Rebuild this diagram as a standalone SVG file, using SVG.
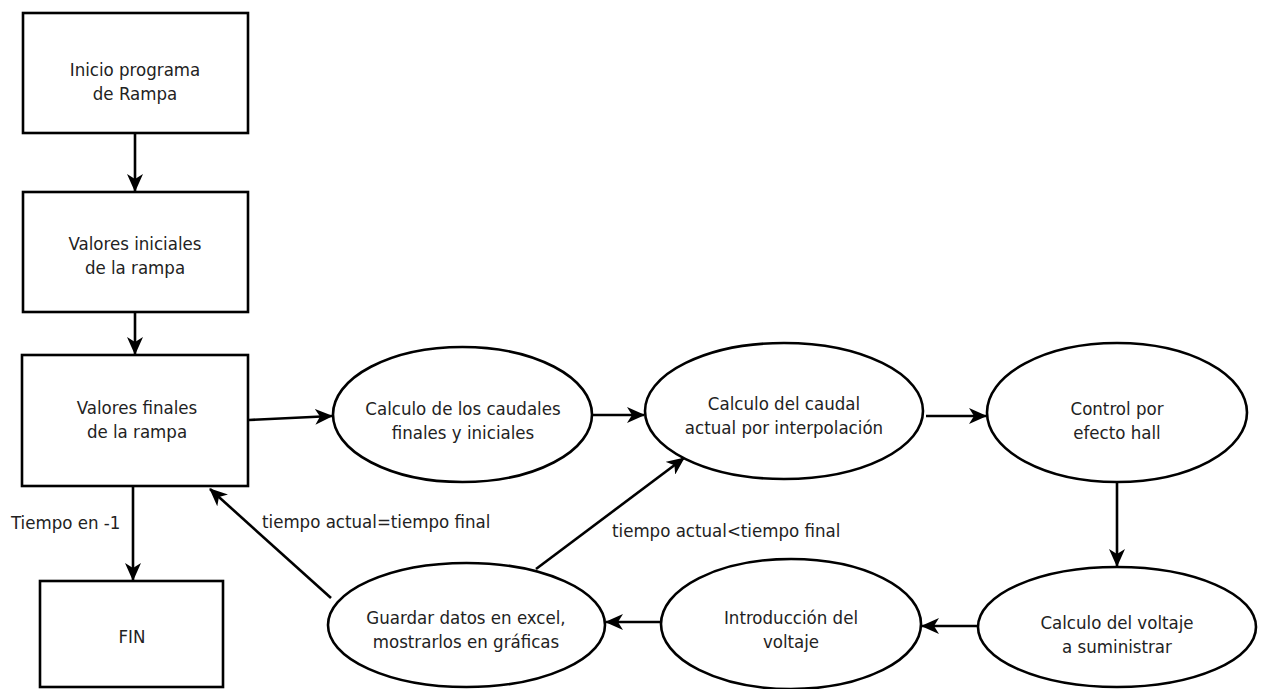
<svg xmlns="http://www.w3.org/2000/svg" width="1262" height="689" viewBox="0 0 1262 689">
<style>
.node{fill:#fff;stroke:#000;stroke-width:2.6}
.t{font-family:"DejaVu Sans Condensed","DejaVu Sans",Verdana,sans-serif;font-stretch:condensed;font-size:18.5px;fill:#222;text-anchor:middle;dominant-baseline:central}
.lbl{font-family:"DejaVu Sans Condensed","DejaVu Sans",Verdana,sans-serif;font-stretch:condensed;font-size:18.5px;fill:#222;dominant-baseline:central}
.c{fill:none;stroke:#000;stroke-width:2.6;marker-end:url(#ah)}
</style>
<defs>
<marker id="ah" viewBox="0 0 18 16" refX="17" refY="8" markerWidth="18" markerHeight="16" markerUnits="userSpaceOnUse" orient="auto">
<path d="M0,0 L18,8 L0,16 L5,8 Z" fill="#000"/>
</marker>
</defs>
<rect width="1262" height="689" fill="#fff"/>
<g id="connectors">
<line class="c" x1="135" y1="133" x2="135" y2="191"/>
<line class="c" x1="135" y1="312" x2="135" y2="354"/>
<line class="c" x1="249" y1="420" x2="332" y2="416"/>
<line class="c" x1="592" y1="415" x2="644" y2="415"/>
<line class="c" x1="926" y1="416" x2="986" y2="416"/>
<line class="c" x1="1117" y1="482" x2="1117" y2="566"/>
<line class="c" x1="978" y1="626" x2="922" y2="626"/>
<line class="c" x1="661" y1="622" x2="606" y2="622"/>
<line class="c" x1="536" y1="569" x2="684" y2="458"/>
<line class="c" x1="331" y1="598" x2="210" y2="489"/>
<line class="c" x1="133" y1="487" x2="133" y2="580"/>
<text class="lbl" x="11" y="522">Tiempo en -1</text>
<text class="lbl" x="262" y="521">tiempo actual=tiempo final</text>
<text class="lbl" x="612" y="530">tiempo actual&lt;tiempo final</text>
</g>
<g id="n1"><rect class="node" x="23" y="13" width="225" height="120"/><text class="t" x="135" y="69">Inicio programa</text><text class="t" x="135" y="93">de Rampa</text></g>
<g id="n2"><rect class="node" x="23" y="192" width="225" height="120"/><text class="t" x="135" y="243">Valores iniciales</text><text class="t" x="135" y="267">de la rampa</text></g>
<g id="n3"><rect class="node" x="22" y="355" width="226" height="131"/><text class="t" x="137" y="407">Valores finales</text><text class="t" x="137" y="431">de la rampa</text></g>
<g id="n4"><rect class="node" x="40" y="581" width="183" height="106"/><text class="t" x="132" y="636">FIN</text></g>
<g id="e1"><ellipse class="node" cx="462.5" cy="414.5" rx="129.5" ry="67.5"/><text class="t" x="463" y="408">Calculo de los caudales</text><text class="t" x="463" y="432">finales y iniciales</text></g>
<g id="e2"><ellipse class="node" cx="784" cy="411" rx="139" ry="68"/><text class="t" x="784" y="403">Calculo del caudal</text><text class="t" x="784" y="427">actual por interpolación</text></g>
<g id="e3"><ellipse class="node" cx="1117" cy="412.5" rx="130" ry="69.5"/><text class="t" x="1117" y="408">Control por</text><text class="t" x="1117" y="432">efecto hall</text></g>
<g id="e4"><ellipse class="node" cx="1117" cy="627" rx="139" ry="60"/><text class="t" x="1117" y="622">Calculo del voltaje</text><text class="t" x="1117" y="646">a suministrar</text></g>
<g id="e5"><ellipse class="node" cx="791" cy="624" rx="130" ry="65"/><text class="t" x="791" y="617">Introducción del</text><text class="t" x="791" y="641">voltaje</text></g>
<g id="e6"><ellipse class="node" cx="466.5" cy="625" rx="138.5" ry="62"/><text class="t" x="466" y="617">Guardar datos en excel,</text><text class="t" x="466" y="641">mostrarlos en gráficas</text></g>
</svg>
